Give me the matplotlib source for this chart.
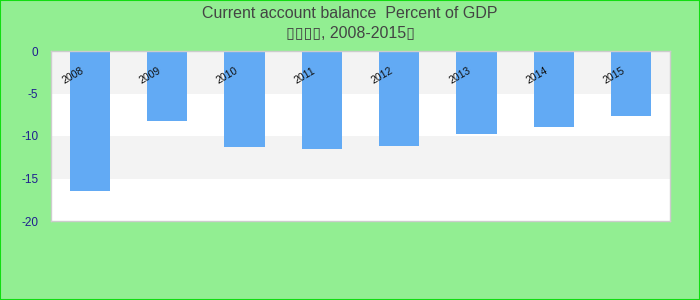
import matplotlib
matplotlib.use("Agg")
import matplotlib.pyplot as plt
from matplotlib.patches import Rectangle

# Data
years = ["2008", "2009", "2010", "2011", "2012", "2013", "2014", "2015"]
balance = [-16.5, -8.2, -11.3, -11.5, -11.2, -9.8, -8.9, -7.6]
y_ticks = [0, -5, -10, -15, -20]

title_line1 = "Current account balance  Percent of GDP"
title_line2 = "\u25af\u25af\u25af\u25af, 2008-2015\u25af"

plt.rcParams["font.family"] = ["Liberation Sans", "DejaVu Sans"]

fig = plt.figure(figsize=(7, 3), dpi=100, facecolor="#92ee92")
fig.patches.append(Rectangle((0, 0), 1, 1, transform=fig.transFigure,
                             fill=False, edgecolor="#11dd11", linewidth=1.5))

ax = fig.add_axes([51 / 700, 1 - 221 / 300, 619 / 700, 170 / 300])
ax.set_facecolor("white")

# alternating bands
for lo in range(0, -20, -5):
    if (lo // -5) % 2 == 0:
        ax.axhspan(lo - 5, lo, color="#f3f3f3", zorder=0, lw=0)

x = list(range(len(years)))
ax.bar(x, balance, width=0.52, color="#62aaf4", zorder=2)

# rotated year labels inside the plot, near the top
for i, yr in enumerate(years):
    ax.text(i - 0.22, -2.9, yr, rotation=30, ha="center", va="center",
            fontsize=7.5, color="#111111", zorder=3)

ax.set_xlim(-0.5, len(years) - 0.5)
ax.set_ylim(-20, 0)
ax.set_xticks([])
ax.set_yticks(y_ticks)
ax.set_yticklabels([str(t) for t in y_ticks], color="#1f1f8f", fontsize=8.5)
ax.tick_params(axis="y", length=0, pad=9)

for s in ax.spines.values():
    s.set_color("#cccccc")
    s.set_linewidth(1)

fig.text(0.5, 1 - 13 / 300, title_line1, ha="center", va="center",
         fontsize=11.5, color="#444444")
fig.text(0.5, 1 - 33 / 300, title_line2, ha="center", va="center",
         fontsize=11.5, color="#444444")

fig.savefig("out.png", dpi=100, facecolor=fig.get_facecolor())
